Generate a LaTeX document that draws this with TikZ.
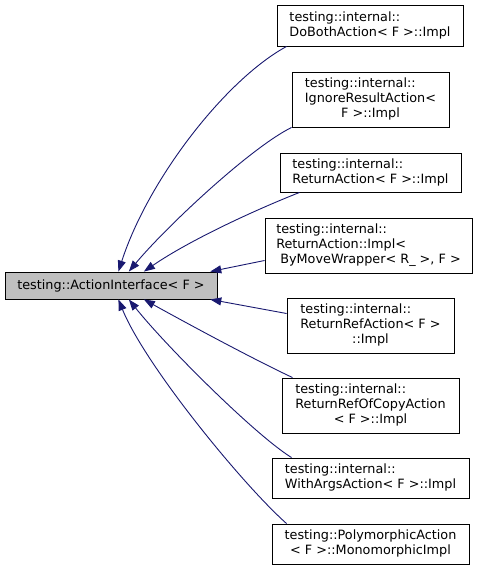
\documentclass[tikz,border=0pt]{standalone}
\usepackage{fontspec}
\setmainfont{DejaVu Sans}
\usetikzlibrary{arrows.meta}
\tikzset{>={Triangle[width=8pt,length=11pt]}}
\definecolor{edgeblue}{HTML}{191970}
\definecolor{basegray}{HTML}{BFBFBF}
% doxygen style labels: left lines, last line centred
\newcommand{\TwoL}[2]{\begin{tabular}{@{}l@{}}#1\\\multicolumn{1}{@{}c@{}}{#2}\end{tabular}}
\newcommand{\ThreeL}[3]{\begin{tabular}{@{}l@{}}#1\\#2\\\multicolumn{1}{@{}c@{}}{#3}\end{tabular}}

\begin{document}
\begin{tikzpicture}[x=1pt,y=-1pt,
  cls/.style={draw=black, fill=white, line width=0.9pt, inner sep=0pt,
    font=\fontsize{12.8}{15}\selectfont},
  edge/.style={->, draw=edgeblue, line width=0.9pt}]

  \useasboundingbox (0,0) rectangle (481,571);

  \node[cls, fill=basegray, minimum width=212pt, minimum height=27pt]
  (ai) at (111,285.5) {testing::ActionInterface< F >};

  \node[cls, minimum width=186pt, minimum height=41pt] (doboth) at (370,25.5)
  {\TwoL{testing::internal::}{DoBothAction< F >::Impl}};
  \node[cls, minimum width=157pt, minimum height=55pt] (ignore) at (370.5,99.5)
  {\ThreeL{testing::internal::}{IgnoreResultAction<}{F >::Impl}};
  \node[cls, minimum width=181pt, minimum height=39pt] (retact) at (370.5,172.5)
  {\TwoL{testing::internal::}{ReturnAction< F >::Impl}};
  \node[cls, minimum width=207pt, minimum height=55pt] (retimpl) at (368.5,245.5)
  {\ThreeL{testing::internal::}{ReturnAction::Impl<}{\ ByMoveWrapper< R\_ >, F >}};
  \node[cls, minimum width=167pt, minimum height=55pt] (retref) at (370.5,325.5)
  {\ThreeL{testing::internal::}{ReturnRefAction< F >}{::Impl}};
  \node[cls, minimum width=177pt, minimum height=55pt] (retcopy) at (370.5,405.5)
  {\ThreeL{testing::internal::}{ReturnRefOfCopyAction}{< F >::Impl}};
  \node[cls, minimum width=197pt, minimum height=40pt] (withargs) at (370.5,478)
  {\TwoL{testing::internal::}{WithArgsAction< F >::Impl}};
  \node[cls, minimum width=197pt, minimum height=40pt] (poly) at (370.5,544)
  {\TwoL{testing::PolymorphicAction}{< F >::MonomorphicImpl}};

  %% children above the base
  \draw[edge] ([xshift=10pt]doboth.south west)
  .. controls (225,80) and (148,180) .. (ai.62.6);
  \draw[edge] (ignore.south west)
  .. controls (250,148) and (165,228) .. (ai.38.5);
  \draw[edge] ([xshift=20pt]retact.south west)
  .. controls (255,210) and (190,240) .. (ai.23.5);
  \draw[edge] ([yshift=-15pt]retimpl.west) -- (ai.8.6);

  %% children below the base
  \draw[edge] ([yshift=12pt]retref.west) -- (ai.-8.6);
  \draw[edge] ([xshift=11pt]retcopy.north west)
  .. controls (255,360) and (190,325) .. (ai.-23.5);
  \draw[edge] ([xshift=20pt]withargs.north west)
  .. controls (255,435) and (165,345) .. (ai.-38.5);
  \draw[edge] ([xshift=15pt]poly.north west)
  .. controls (242,484) and (145,365) .. (ai.-62.6);

\end{tikzpicture}
\end{document}
